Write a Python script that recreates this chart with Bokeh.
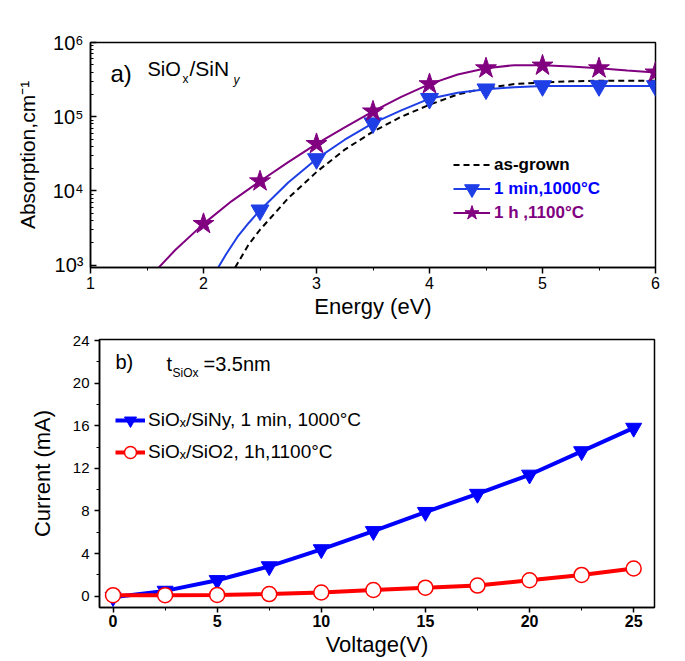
from bokeh.plotting import figure
from bokeh.models import Legend, LegendItem, Label, FixedTicker, Range1d
from bokeh.embed import file_html
from bokeh.resources import INLINE

# ---------------- Panel a) absorption ----------------
energy_marks = [2.0, 2.5, 3.0, 3.5, 4.0, 4.5, 5.0, 5.5, 6.0]
star_marks = [3.6e3, 1.35e4, 4.3e4, 1.18e5, 2.75e5, 4.5e5, 4.9e5, 4.5e5, 3.95e5]

energy_tri = [2.5, 3.0, 3.5, 4.0, 4.5, 5.0, 5.5, 6.0]
tri_marks = [5.5e3, 2.7e4, 8.2e4, 1.75e5, 2.35e5, 2.6e5, 2.6e5, 2.6e5]

purple_x = [1.58, 1.75, 2.0, 2.25, 2.5, 2.75, 3.0, 3.25, 3.5, 3.75, 4.0, 4.25, 4.5, 4.75, 5.0, 5.25, 5.5, 5.75, 6.0]
purple_y = [850, 1.6e3, 3.6e3, 7.3e3, 1.35e4, 2.45e4, 4.3e4, 7.2e4, 1.18e5, 1.85e5, 2.75e5, 3.7e5, 4.5e5, 4.95e5, 4.95e5, 4.75e5, 4.5e5, 4.2e5, 3.95e5]

blue_x = [2.13, 2.2, 2.3, 2.4, 2.5, 2.75, 3.0, 3.25, 3.5, 3.75, 4.0, 4.25, 4.5, 4.75, 5.0, 5.5, 6.0]
blue_y = [930, 1.4e3, 2.4e3, 3.7e3, 5.5e3, 1.3e4, 2.7e4, 4.9e4, 8.2e4, 1.22e5, 1.75e5, 2.1e5, 2.35e5, 2.5e5, 2.6e5, 2.6e5, 2.6e5]

grown_x = [2.28, 2.4, 2.5, 2.75, 3.0, 3.25, 3.5, 3.75, 4.0, 4.25, 4.5, 4.75, 5.0, 5.25, 5.5, 6.0]
grown_y = [930, 1.9e3, 3.0e3, 8.0e3, 1.8e4, 3.6e4, 6.3e4, 1.0e5, 1.45e5, 2.0e5, 2.45e5, 2.75e5, 2.9e5, 3.0e5, 3.05e5, 3.05e5]

y_major = [1e3, 1e4, 1e5, 1e6]
y_labels = ["10\u00b3", "10\u2074", "10\u2075", "10\u2076"]

# ---------------- Panel b) I-V ----------------
voltage = [0, 2.5, 5, 7.5, 10, 12.5, 15, 17.5, 20, 22.5, 25]
cur_sin = [-0.1, 0.5, 1.5, 2.8, 4.4, 6.1, 7.9, 9.6, 11.4, 13.6, 15.8]
cur_sio2 = [0.1, 0.1, 0.12, 0.2, 0.35, 0.58, 0.8, 1.0, 1.5, 2.0, 2.6]

FONT = "Liberation Sans"
PURPLE = "#800080"
BLUE_A = "#1f3fe6"
BLUE_B = "#0000ff"
RED = "#ff0000"

# ======== figure a ========
p1 = figure(width=677, height=324, y_axis_type="log", output_backend="svg",
            toolbar_location=None, x_range=Range1d(1, 6), y_range=Range1d(930, 1e6),
            min_border_left=90, min_border_right=22, min_border_top=42, min_border_bottom=57)
p1.title.visible = False
p1.grid.visible = False
p1.outline_line_color = "black"
p1.outline_line_width = 1.5
p1.outline_line_alpha = 1

r_grown = p1.line(grown_x, grown_y, line_color="black", line_width=2, line_dash="6 4")
r_bl = p1.line(blue_x, blue_y, line_color=BLUE_A, line_width=2)
r_bm = p1.scatter(energy_tri, tri_marks, marker="inverted_triangle", size=18,
                  fill_color=BLUE_A, line_color=BLUE_A)
r_pl = p1.line(purple_x, purple_y, line_color=PURPLE, line_width=2)
r_pm = p1.scatter(energy_marks, star_marks, marker="star", size=22,
                  fill_color=PURPLE, line_color=PURPLE)

p1.xaxis.ticker = FixedTicker(ticks=[1, 2, 3, 4, 5, 6], minor_ticks=[1.5, 2.5, 3.5, 4.5, 5.5])
minor = [m * d for d in (1e3, 1e4, 1e5) for m in range(2, 10)]
p1.yaxis.ticker = FixedTicker(ticks=y_major, minor_ticks=minor)
p1.yaxis.major_label_overrides = {v: t for v, t in zip(y_major, y_labels)}

for ax in (p1.xaxis[0], p1.yaxis[0]):
    ax.axis_line_width = 1.5
    ax.major_tick_line_width = 1.5
    ax.minor_tick_line_width = 1
    ax.major_label_text_font = FONT
    ax.axis_label_text_font = FONT
    ax.axis_label_text_font_style = "normal"
    ax.axis_label_text_font_size = "22px"
    ax.axis_label_text_color = "black"
    ax.major_label_text_color = "black"

p1.xaxis.axis_label = "Energy (eV)"
p1.xaxis.major_label_text_font_size = "16px"
p1.xaxis.major_tick_in = 0
p1.xaxis.major_tick_out = 6
p1.xaxis.minor_tick_in = 0
p1.xaxis.minor_tick_out = 3
p1.xaxis.major_label_standoff = 3
p1.xaxis.axis_label_standoff = 2

p1.yaxis.axis_label = "Absorption,cm\u207b\u00b9"
p1.yaxis.axis_label_text_font_size = "21px"
p1.yaxis.major_label_text_font_size = "20px"
p1.yaxis.major_tick_in = 6
p1.yaxis.major_tick_out = 0
p1.yaxis.minor_tick_in = 3
p1.yaxis.minor_tick_out = 0
p1.yaxis.major_label_standoff = 7
p1.yaxis.axis_label_standoff = 11

def single_legend(p, label, rends, color, loc):
    leg = Legend(items=[LegendItem(label=label, renderers=rends)], location=loc,
                 padding=0, margin=0, spacing=0, glyph_width=37, glyph_height=37,
                 label_standoff=4, label_text_font=FONT, label_text_font_size="17px",
                 label_text_font_style="bold", label_text_color=color,
                 border_line_color=None, background_fill_alpha=0)
    p.add_layout(leg)

single_legend(p1, "as-grown", [r_grown], "black", (363, 84))
single_legend(p1, "1 min,1000\u00b0C", [r_bl, r_bm], BLUE_B, (363, 60))
single_legend(p1, "1 h ,1100\u00b0C", [r_pl, r_pm], PURPLE, (363, 36))

def lab(p, x, y, text, size, style="normal"):
    p.add_layout(Label(x=x, y=y, x_units="screen", y_units="screen", text=text,
                       text_font=FONT, text_font_size=size, text_font_style=style,
                       text_color="black", text_baseline="alphabetic", text_align="left"))

lab(p1, 20, 194, "a)", "24px")
lab(p1, 57, 199, "SiO", "20px")
lab(p1, 92, 189, "x", "12px")
lab(p1, 99, 199, "/SiN", "21px")
lab(p1, 143, 188, "y", "12px", "italic")

# ======== figure b ========
p2 = figure(width=677, height=337, output_backend="svg", toolbar_location=None,
            x_range=Range1d(-0.65, 26.0), y_range=Range1d(-1.06, 24.1),
            min_border_left=99, min_border_right=23, min_border_top=15, min_border_bottom=54)
p2.title.visible = False
p2.grid.visible = False
p2.outline_line_color = "black"
p2.outline_line_width = 1.5
p2.outline_line_alpha = 1

rb_l = p2.line(voltage, cur_sin, line_color=BLUE_B, line_width=4)
rb_m = p2.scatter(voltage, cur_sin, marker="inverted_triangle", size=16,
                  fill_color=BLUE_B, line_color=BLUE_B)
rr_l = p2.line(voltage, cur_sio2, line_color=RED, line_width=4)
rr_m = p2.scatter(voltage, cur_sio2, marker="circle", size=15, fill_color="white",
                  line_color=RED, line_width=1.5)

p2.xaxis.ticker = FixedTicker(ticks=[0, 5, 10, 15, 20, 25], minor_ticks=[2.5, 7.5, 12.5, 17.5, 22.5])
p2.yaxis.ticker = FixedTicker(ticks=[0, 4, 8, 12, 16, 20, 24], minor_ticks=[2, 6, 10, 14, 18, 22])

for ax in (p2.xaxis[0], p2.yaxis[0]):
    ax.axis_line_width = 1.5
    ax.major_tick_line_width = 1.5
    ax.minor_tick_line_width = 1
    ax.major_tick_in = 0
    ax.major_tick_out = 5
    ax.minor_tick_in = 0
    ax.minor_tick_out = 3
    ax.major_label_text_font = FONT
    ax.axis_label_text_font = FONT
    ax.axis_label_text_font_style = "normal"
    ax.axis_label_text_font_size = "22px"
    ax.axis_label_text_color = "black"
    ax.major_label_text_color = "black"

p2.xaxis.axis_label = "Voltage(V)"
p2.xaxis.major_label_text_font_size = "16px"
p2.xaxis.major_label_text_font_style = "bold"
p2.xaxis.major_label_standoff = 2
p2.xaxis.axis_label_standoff = 2

p2.yaxis.axis_label = "Current (mA)"
p2.yaxis.major_label_text_font_size = "15px"
p2.yaxis.major_label_standoff = 5
p2.yaxis.axis_label_standoff = 15

leg2 = Legend(items=[LegendItem(label="SiO\u2093/SiNy, 1 min, 1000\u00b0C", renderers=[rb_l, rb_m]),
                     LegendItem(label="SiO\u2093/SiO2, 1h,1100\u00b0C", renderers=[rr_l, rr_m])],
              location=(16, 140), padding=0, margin=0, spacing=2,
              glyph_width=30, glyph_height=30, label_standoff=3,
              label_text_font=FONT, label_text_font_size="19px", label_text_color="black",
              border_line_color=None, background_fill_alpha=0)
p2.add_layout(leg2)

lab(p2, 16, 246, "b)", "20px")
lab(p2, 67, 244, "t", "20px")
lab(p2, 73, 235, "SiOx", "12px")
lab(p2, 104, 244, "=3.5nm", "20px")

open("out.html", "w").write(file_html((p1, p2), INLINE))
